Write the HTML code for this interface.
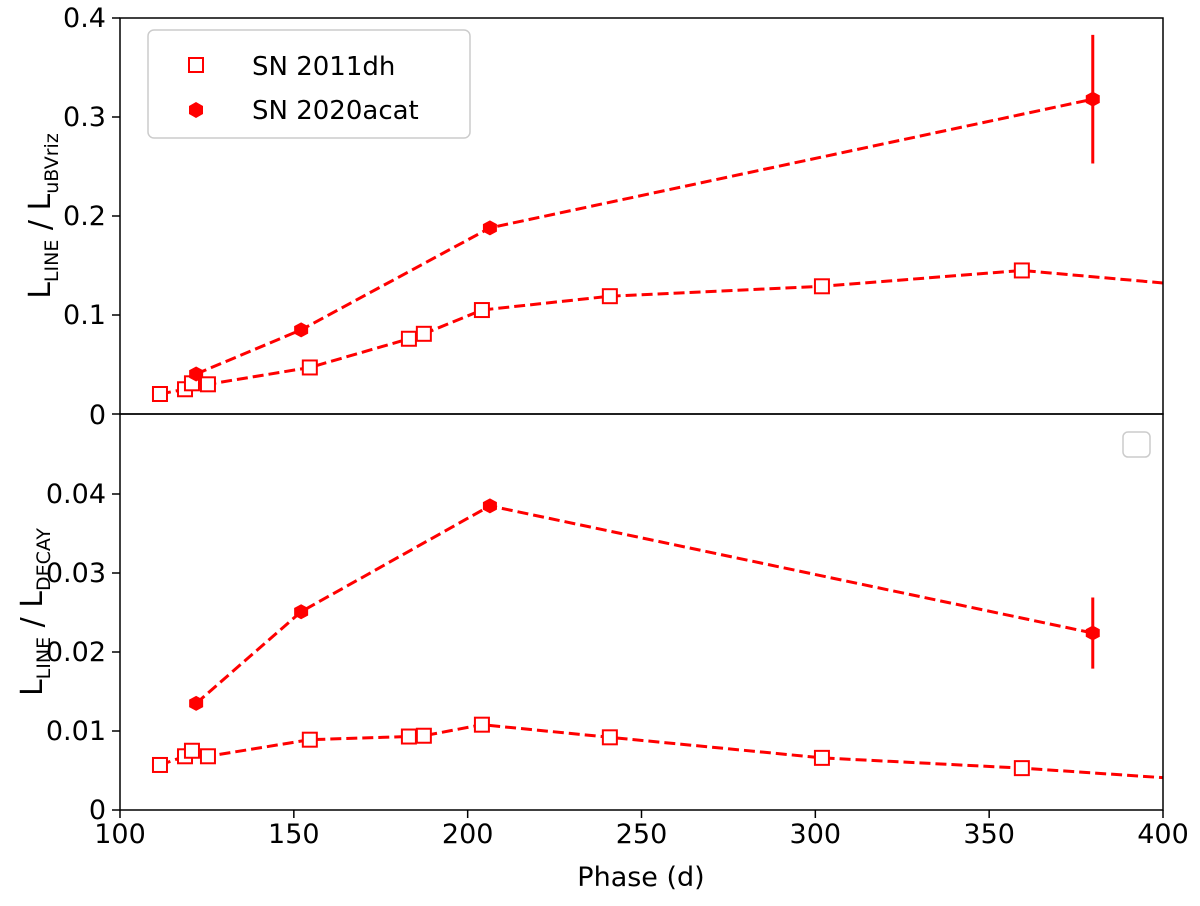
<!DOCTYPE html>
<html><head><meta charset="utf-8"><style>
body{margin:0;background:#fff;}
svg text{font-family:"DejaVu Sans","Liberation Sans",sans-serif;fill:#000;}
</style></head><body>
<svg id="c" width="1200" height="901" xmlns="http://www.w3.org/2000/svg">
<defs>
<clipPath id="cpT"><rect x="120" y="18" width="1043" height="396"/></clipPath>
<clipPath id="cpB"><rect x="120" y="414" width="1043" height="396"/></clipPath>
</defs>
<g id="marks"></g>
<rect x="120" y="18" width="1043" height="396" fill="none" stroke="#000" stroke-width="1.5"/>
<rect x="120" y="414" width="1043" height="396" fill="none" stroke="#000" stroke-width="1.5"/>
<g id="ticks"></g>
<text x="641" y="886" font-size="27" text-anchor="middle">Phase (d)</text>
<text transform="translate(50,216) rotate(-90)" font-size="30" text-anchor="middle">L<tspan font-size="19" dy="8">LINE</tspan><tspan dy="-8"> / L</tspan><tspan font-size="19" dy="8">uBVriz</tspan></text>
<text transform="translate(42,612) rotate(-90)" font-size="30" text-anchor="middle">L<tspan font-size="19" dy="8">LINE</tspan><tspan dy="-8"> / L</tspan><tspan font-size="19" dy="8">DECAY</tspan></text>
<g>
<rect x="148" y="30" width="322" height="108" rx="6" fill="#fff" stroke="#ccc" stroke-width="1.5"/>
<rect x="189" y="58" width="14" height="14" fill="none" stroke="#f00" stroke-width="2"/>
<text x="252" y="75" font-size="26">SN 2011dh</text>
<polygon points="196,102 203,106 203,114 196,118 189,114 189,106" fill="#f00"/>
<text x="252" y="119" font-size="26">SN 2020acat</text>
</g>
<rect x="1123" y="432" width="27" height="25" rx="5" fill="#fff" stroke="#ccc" stroke-width="1.5"/>
</svg>
<script>
const dhPhase=[111.5,118.7,120.7,125.3,154.6,183.1,187.4,204.1,240.9,301.9,359.4,430];
const dhTop=[0.0202,0.025,0.031,0.030,0.047,0.076,0.081,0.105,0.119,0.129,0.145,0.123];
const dhBot=[0.0057,0.0068,0.0075,0.0068,0.0089,0.0093,0.0094,0.0108,0.0092,0.0066,0.0053,0.0032];
const acPhase=[121.9,152.1,206.4,379.8];
const acTop=[0.0404,0.085,0.188,0.318];
const acTopErr=[0,0,0,0.065];
const acBot=[0.0135,0.0251,0.0385,0.0224];
const acBotErr=[0,0,0,0.0045];
const xTicks=[100,150,200,250,300,350,400];
const topTicks=[0,0.1,0.2,0.3,0.4];
const topTickLabels=["0","0.1","0.2","0.3","0.4"];
const botTicks=[0,0.01,0.02,0.03,0.04];
const botTickLabels=["0","0.01","0.02","0.03","0.04"];
const NS="http://www.w3.org/2000/svg";
const X=v=>120+(v-100)*1043/300;
const YT=v=>414-v*990;
const YB=v=>810-v*7900;
const marks=document.getElementById('marks'),ticks=document.getElementById('ticks');
function mk(t,a,p){const e=document.createElementNS(NS,t);for(const k in a)e.setAttribute(k,a[k]);p.appendChild(e);return e;}
function series(xs,ys,errs,Y,clip,filled,name){
  const g=mk('g',{'clip-path':'url(#'+clip+')'},marks);
  
  
  mk('polyline',{points:xs.map((x,i)=>X(x)+','+Y(ys[i])).join(' '),fill:'none',stroke:'#f00','stroke-width':3,'stroke-dasharray':'11,5'},g);
  xs.forEach((x,i)=>{
    const cx=X(x),cy=Y(ys[i]);
    if(errs&&errs[i]>0){const l=mk('line',{x1:cx,x2:cx,y1:Y(ys[i]+errs[i]),y2:Y(ys[i]-errs[i]),stroke:'#f00','stroke-width':3},g);
      
      }
    let m;
    if(filled){m=mk('polygon',{points:[[0,-7.5],[7,-3.75],[7,3.75],[0,7.5],[-7,3.75],[-7,-3.75]].map(p=>(cx+p[0])+','+(cy+p[1])).join(' '),fill:'#f00'},g);}
    else{m=mk('rect',{x:cx-7,y:cy-7,width:14,height:14,fill:'#fff',stroke:'#f00','stroke-width':2},g);}
    
    
  });
}
series(dhPhase,dhTop,null,YT,'cpT',false,'series-2011dh-top');
series(acPhase,acTop,acTopErr,YT,'cpT',true,'series-2020acat-top');
series(dhPhase,dhBot,null,YB,'cpB',false,'series-2011dh-bottom');
series(acPhase,acBot,acBotErr,YB,'cpB',true,'series-2020acat-bottom');
xTicks.forEach(v=>{
  mk('line',{x1:X(v),x2:X(v),y1:810,y2:818,stroke:'#000','stroke-width':1.5},ticks);
  const t=mk('text',{x:X(v),y:843,'font-size':27,'text-anchor':'middle'},ticks);t.textContent=v;
  
  
});
topTicks.forEach((v,i)=>{
  mk('line',{x1:112,x2:120,y1:YT(v),y2:YT(v),stroke:'#000','stroke-width':1.5},ticks);
  if(i===0)return;
  const t=mk('text',{x:106,y:YT(v)+9,'font-size':27,'text-anchor':'end'},ticks);t.textContent=topTickLabels[i];
  
  
});
{const t=mk('text',{x:106,y:424,'font-size':27,'text-anchor':'end'},ticks);t.textContent='0';
 
 }
botTicks.forEach((v,i)=>{
  mk('line',{x1:112,x2:120,y1:YB(v),y2:YB(v),stroke:'#000','stroke-width':1.5},ticks);
  const t=mk('text',{x:106,y:YB(v)+9,'font-size':27,'text-anchor':'end'},ticks);t.textContent=botTickLabels[i];
  
  
});
</script>
</body></html>
